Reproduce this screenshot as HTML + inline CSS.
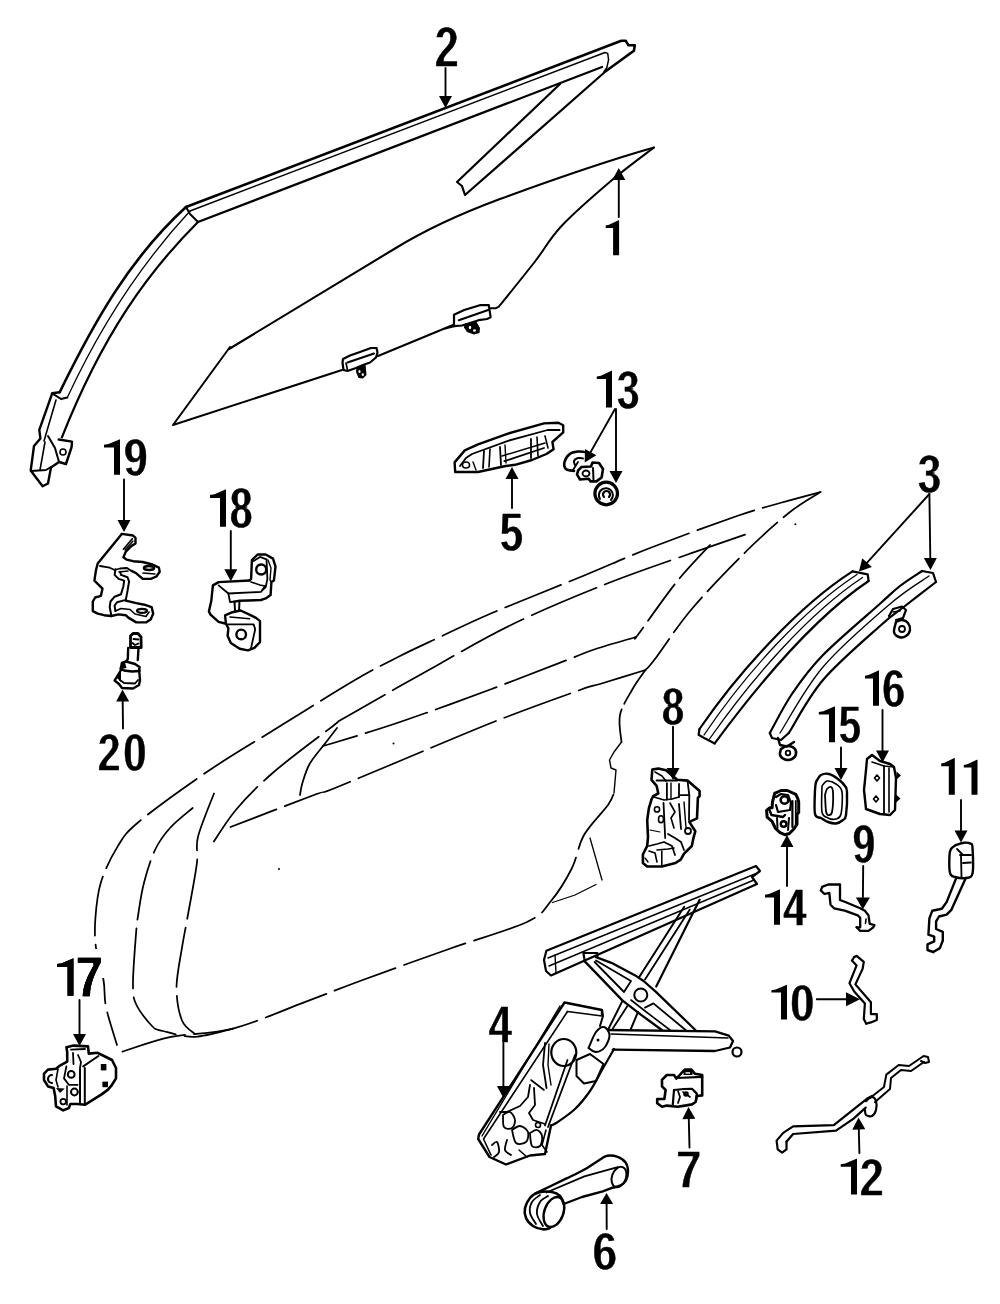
<!DOCTYPE html>
<html><head><meta charset="utf-8"><style>
html,body{margin:0;padding:0;background:#fff;}
body{width:1000px;height:1304px;overflow:hidden;}
svg{display:block;}
svg text{font-family:"Liberation Sans",sans-serif;font-weight:bold;font-size:100px;fill:#000;}
.f{fill:#000;stroke:none;}
</style></head><body>
<svg width="1000" height="1304" viewBox="0 0 1000 1304" fill="none" stroke="#000" stroke-linejoin="round" stroke-linecap="round">
<defs><filter id="thin" x="0" y="0" width="1000" height="1304" filterUnits="userSpaceOnUse"><feMorphology operator="erode" radius="0 0.8"/></filter></defs>
<polyline points="186.0,207.0 621.3,40.8 625.8,40.8 628.5,45.3 634.8,45.3 633.9,50.7 606.0,71.0" stroke-width="2.6" />
<polyline points="190.0,211.0 605.0,52.5 607.7,53.4 608.6,59.7 606.8,67.8 604.1,71.4" stroke-width="1.5" />
<polyline points="198.0,222.0 602.0,67.0" stroke-width="2.2" />
<polyline points="186.0,207.0 190.0,214.0 198.0,222.0" stroke-width="2" />
<polyline points="560.0,84.0 457.0,182.0 462.0,186.0 465.0,195.0 606.0,71.0" stroke-width="2.2" />
<path d="M186,207 C130,258 94,322 59.7,392.2" stroke-width="2.6" fill="none" />
<path d="M190,211 C140,265 100,327 67.3,397.6" stroke-width="1.3" fill="none" />
<path d="M198,222 C148,272 103,334 61.9,437.3" stroke-width="2.2" fill="none" />
<polyline points="59.7,392.2 52.2,393.3 39.3,429.8 40.4,438.4 34.0,446.0 30.7,470.6 42.6,486.2 48.0,483.5 51.0,467.4 59.0,462.0 66.0,464.0 71.6,447.0 72.0,441.6 58.7,439.5" stroke-width="2.4" />
<polyline points="52.2,393.3 61.0,399.0 67.3,397.6" stroke-width="2" />
<polyline points="56.0,400.0 44.0,441.0" stroke-width="1.6" />
<polyline points="48.0,436.0 55.0,448.0 59.0,462.0" stroke-width="2" />
<polyline points="31.0,471.0 46.0,470.0 51.0,467.0" stroke-width="2" />
<polyline points="45.0,442.0 40.0,470.0" stroke-width="1.6" />
<circle cx="63" cy="452" r="3" stroke-width="1.6"/>
<path d="M229,349 L395,248.5 C430,227 465,212 500,199 C560,177 610,160 654,147.5" stroke-width="2.1" fill="none" />
<polyline points="230.0,347.0 173.0,425.0 342.0,370.0" stroke-width="2" />
<path d="M654.0,147.5 C646.9,153.0 626.8,167.5 611.5,180.5 C596.2,193.5 574.8,212.0 562.0,225.5 C549.2,239.0 545.5,248.0 535.0,261.5 C524.5,275.0 505.0,299.0 499.0,306.5" stroke-width="2" fill="none" />
<polyline points="378.0,356.0 453.0,325.0" stroke-width="2" />
<polyline points="343.0,359.0 350.0,355.5 360.0,352.0 371.0,348.0 376.5,348.0 377.5,352.5 376.0,357.5 370.0,362.5 363.0,365.0 356.0,368.0 347.5,371.0 343.5,370.0 342.5,362.5 343.0,359.0" stroke-width="2.2" />
<polyline points="347.5,362.5 374.0,353.5" stroke-width="2.0" />
<polyline points="346.0,363.0 347.5,370.0" stroke-width="1.6" />
<polygon points="356.5,367 365.5,364 366.5,375 363,378.5 358.5,378 356,372" class="f"/>
<ellipse cx="359.5" cy="371.5" rx="1.1" ry="1.6" fill="#fff" stroke="none"/>
<ellipse cx="362.8" cy="374.5" rx="1.1" ry="1.6" fill="#fff" stroke="none"/>
<polyline points="454.0,314.8 464.2,310.0 479.8,305.2 488.8,305.2 490.6,317.2 487.0,319.0 478.6,320.2 470.0,323.0 462.0,325.5 454.0,326.2 454.0,314.8" stroke-width="2.2" />
<polyline points="458.8,320.2 488.2,310.0" stroke-width="2.0" />
<polyline points="490.6,308.2 496.0,308.2 499.0,306.5" stroke-width="2.0" />
<polyline points="445.0,328.6 454.0,326.2" stroke-width="2.0" />
<polygon points="464.5,324 476,321 480,328 479.5,333 474,334.6 467,332 464,327.5" class="f"/>
<ellipse cx="470" cy="327.5" rx="1.2" ry="1.8" fill="#fff" stroke="none"/>
<ellipse cx="474.5" cy="330.5" rx="1.5" ry="1.2" fill="#fff" stroke="none"/>
<line x1="445.5" y1="68.0" x2="445.5" y2="96.0" stroke-width="1.9"/>
<polygon points="445.5,108.0 439.0,96.0 452.0,96.0" class="f"/>
<line x1="618.8" y1="217.0" x2="618.8" y2="180.0" stroke-width="1.9"/>
<polygon points="618.8,168.0 625.3,180.0 612.3,180.0" class="f"/>
<polyline points="455.2,472.0 478.0,472.0 505.6,466.0 515.2,464.8 532.0,460.0 546.4,454.0 553.6,449.2 552.4,442.0 563.2,432.4 563.2,425.2 558.4,422.8 544.0,423.4 508.0,433.6 478.0,444.4 464.8,450.4 454.6,462.4 455.2,472.0" stroke-width="2.4" />
<polyline points="460.0,466.0 466.0,458.0 472.0,454.0 508.0,440.8 547.6,430.0 559.6,430.0" stroke-width="1.8" />
<polyline points="504.4,461.2 544.0,448.0" stroke-width="1.8" />
<polyline points="502.0,456.0 545.0,443.0" stroke-width="1.4" />
<polyline points="484.0,451.0 483.0,468.0" stroke-width="1.8" />
<polyline points="490.0,449.0 489.0,467.0" stroke-width="1.6" />
<polyline points="500.0,447.0 501.0,465.0" stroke-width="1.8" />
<polyline points="505.0,445.0 506.0,463.0" stroke-width="1.4" />
<polyline points="531.0,439.0 531.0,458.0" stroke-width="1.8" />
<polyline points="537.0,437.0 538.0,456.0" stroke-width="1.6" />
<polyline points="545.0,436.0 548.0,448.0" stroke-width="1.6" />
<ellipse cx="466" cy="465" rx="3.5" ry="3" stroke-width="1.6"/>
<polyline points="473.0,462.0 476.0,470.0" stroke-width="1.4" />
<line x1="512.0" y1="508.0" x2="512.0" y2="479.0" stroke-width="1.9"/>
<polygon points="512.0,467.0 518.5,479.0 505.5,479.0" class="f"/>
<path d="M574.0,471.0 C572.7,470.7 567.6,470.5 566.0,469.0 C564.4,467.5 563.9,464.5 564.5,462.0 C565.1,459.5 567.5,455.8 569.8,454.0 C572.0,452.2 575.6,451.8 578.0,451.5 C580.4,451.2 583.0,451.9 584.0,452.0" stroke-width="2.6" fill="none" />
<path d="M575.0,465.0 C574.8,464.3 573.5,462.2 574.0,461.0 C574.5,459.8 576.5,458.4 578.0,458.0 C579.5,457.6 582.2,458.4 583.0,458.5" stroke-width="2.0" fill="none" />
<polyline points="573.0,470.0 578.0,462.0" stroke-width="1.8" />
<polyline points="581.5,467.0 591.0,466.5 592.5,462.5 599.0,463.0 603.0,469.0 601.6,477.5 596.4,481.4 590.6,481.4 588.6,478.8 580.0,479.5 577.0,474.4 578.2,470.4 581.5,467.0" stroke-width="2.6" />
<ellipse cx="586" cy="473.5" rx="3.5" ry="3" stroke-width="1.8"/>
<polyline points="593.0,468.0 593.5,480.0" stroke-width="2.0" />
<circle cx="606.2" cy="493.5" r="11.3" stroke-width="3.2"/>
<path d="M600,499 A7,7 0 1,1 611,500" stroke-width="2.0" fill="none" />
<path d="M604,497 A3.5,3.5 0 1,1 609,497" stroke-width="2.2" fill="none" />
<line x1="615.0" y1="409.0" x2="590.6" y2="452.1" stroke-width="1.9"/>
<polygon points="584.7,462.5 585.0,448.9 596.3,455.3" class="f"/>
<line x1="616.0" y1="409.0" x2="616.0" y2="471.0" stroke-width="1.9"/>
<polygon points="616.0,483.0 609.5,471.0 622.5,471.0" class="f"/>
<line x1="124.0" y1="479.5" x2="124.0" y2="520.0" stroke-width="1.9"/>
<polygon points="124.0,532.0 117.5,520.0 130.5,520.0" class="f"/>
<polyline points="121.8,533.9 97.7,563.6 96.0,570.0 94.4,580.6 102.5,588.6 100.9,595.9 95.2,597.5 92.8,601.5 92.8,611.1 97.7,613.6 104.1,615.2 111.3,616.0" stroke-width="2.4" />
<polyline points="121.8,533.9 133.1,535.5 135.5,537.9 135.5,543.5 131.5,545.9 125.8,551.6 123.4,557.2 126.6,559.6 133.1,561.2 142.7,562.0 152.4,564.5 158.9,567.7 159.7,571.7 156.4,576.5 150.8,578.9 142.7,578.9 136.3,573.3 131.5,570.9" stroke-width="2.4" />
<polyline points="123.4,549.2 132.3,538.7" stroke-width="1.6" />
<polyline points="125.0,550.0 133.0,541.0" stroke-width="1.4" />
<ellipse cx="149" cy="568" rx="5" ry="2" stroke-width="2.6"/>
<polyline points="143.0,573.0 155.0,574.0" stroke-width="1.4" />
<polyline points="100.0,566.0 109.7,567.7 114.6,570.0 120.0,568.5 127.0,568.0 131.5,570.9" stroke-width="1.8" />
<polyline points="115.4,569.3 114.6,574.9 118.6,578.9 124.2,580.6 123.4,586.2 121.0,594.2 114.6,596.7 110.5,601.5 109.7,607.1 111.3,615.2" stroke-width="2.0" />
<polyline points="120.2,571.7 121.0,574.9 127.5,577.3 129.1,581.4 127.5,591.0 125.8,599.9 117.0,602.3 114.6,605.5 115.4,611.1" stroke-width="2.0" />
<polyline points="119.0,572.0 128.0,571.0" stroke-width="1.6" />
<polyline points="125.8,600.7 136.3,603.1 144.4,604.7 151.6,607.1 153.2,613.6 150.8,619.2 146.0,622.4 136.3,622.4 128.3,617.6 125.8,615.2 118.6,614.4 111.3,616.0" stroke-width="2.4" />
<polyline points="115.4,611.1 121.0,608.5 130.0,609.5 135.0,614.0 146.0,616.5 149.0,612.0" stroke-width="1.6" />
<ellipse cx="142" cy="610.8" rx="5" ry="2" stroke-width="2.2"/>
<line x1="230.8" y1="531.0" x2="230.8" y2="569.3" stroke-width="1.9"/>
<polygon points="230.8,581.3 224.3,569.3 237.3,569.3" class="f"/>
<polyline points="249.5,580.5 218.6,582.1 212.9,585.4 211.3,600.8 208.9,611.4 210.5,614.6 218.6,621.9 225.1,623.5" stroke-width="2.4" />
<polyline points="249.5,580.5 251.1,578.9 251.9,560.2 257.6,554.5 265.7,554.5 273.0,558.6 275.5,566.7 273.9,580.5 271.4,582.1 270.6,595.1 265.7,598.4 260.9,600.0 239.7,600.8 234.1,601.6" stroke-width="2.4" />
<polyline points="253.6,561.0 260.0,556.9 266.5,559.4 267.4,578.9 265.7,587.0 262.5,590.2" stroke-width="1.8" />
<polyline points="268.0,560.0 271.0,568.0 270.0,580.0 271.4,582.1" stroke-width="1.4" />
<circle cx="261.2" cy="569.5" r="5" stroke-width="2.4"/>
<polyline points="218.6,585.4 228.4,593.5 260.9,591.9 264.9,586.2" stroke-width="1.8" />
<polyline points="251.0,582.0 260.0,585.0 265.0,586.0" stroke-width="1.6" />
<polyline points="228.4,593.5 230.0,602.0 234.1,601.6" stroke-width="1.8" />
<polyline points="234.5,602.0 235.0,611.0" stroke-width="2.0" />
<polyline points="239.5,601.0 239.0,611.0" stroke-width="2.0" />
<polyline points="225.1,615.4 232.4,612.2 240.6,610.5 249.5,614.6 256.0,617.9 260.0,621.1 260.0,642.2 254.4,647.9 247.9,650.4 239.7,648.7 230.8,643.1 227.6,635.7 228.4,628.4 225.9,623.5 225.1,615.4" stroke-width="2.4" />
<polyline points="227.6,624.4 253.6,624.4 255.2,629.2 251.1,647.9" stroke-width="1.8" />
<polyline points="230.0,617.0 249.5,618.7" stroke-width="1.6" />
<circle cx="241.2" cy="634.4" r="4.8" stroke-width="2.4"/>
<polyline points="130.5,636.0 133.0,633.5 138.0,633.5 141.0,637.0 141.2,647.5 130.5,647.5 130.5,636.0" stroke-width="2.8" />
<polyline points="133.5,639.0 138.5,639.5" stroke-width="1.8" />
<polyline points="132.5,643.0 135.0,645.0 138.5,643.5" stroke-width="1.8" />
<polyline points="128.2,648.0 127.8,659.0 126.5,661.0" stroke-width="2.4" />
<polyline points="138.5,648.0 137.8,660.0" stroke-width="2.4" />
<polyline points="122.0,663.0 126.0,661.5 135.0,664.0 139.5,667.0 139.2,671.0" stroke-width="2.6" />
<polyline points="122.0,663.0 120.5,669.0 124.0,670.5 132.0,671.5 139.2,671.0" stroke-width="2.4" />
<polygon points="121,663.5 125,662.5 126.5,668 122,669" class="f"/>
<polyline points="121.0,670.0 114.6,680.5 119.0,684.0 122.0,688.0 133.0,688.5 139.0,685.0 140.0,680.0 139.2,671.0" stroke-width="2.4" />
<polyline points="120.0,680.0 124.0,683.0 135.0,683.5 138.0,680.0" stroke-width="1.8" />
<polygon points="121,670 117,678 121,682" class="f"/>
<line x1="123.0" y1="728.6" x2="122.7" y2="701.5" stroke-width="1.9"/>
<polygon points="122.5,689.5 129.2,701.4 116.2,701.6" class="f"/>
<line x1="79.5" y1="1000.0" x2="79.5" y2="1034.0" stroke-width="1.9"/>
<polygon points="79.5,1046.0 73.0,1034.0 86.0,1034.0" class="f"/>
<polyline points="66.4,1047.2 73.6,1045.6 88.0,1046.4 88.8,1053.6 97.6,1052.8 104.0,1056.0 112.0,1060.0 116.0,1068.0 116.0,1078.4 112.0,1084.8 108.0,1089.6 101.6,1094.4 95.2,1098.4 88.8,1102.4 84.8,1104.8 77.6,1104.0 70.4,1104.0 68.8,1108.0 63.2,1110.4 56.0,1106.4 55.2,1096.0 53.6,1088.0 48.0,1086.4 44.0,1080.0 44.0,1073.6 48.0,1069.6 56.0,1068.8 60.0,1065.6 67.2,1061.6 67.2,1052.0 66.4,1047.2" stroke-width="2.6" />
<polyline points="83.2,1066.4 98.4,1056.0" stroke-width="2.0" />
<polyline points="84.8,1068.0 84.8,1104.0" stroke-width="2.0" />
<polyline points="80.0,1068.8 80.0,1102.4" stroke-width="2.0" />
<polyline points="71.0,1049.6 85.0,1049.0" stroke-width="1.8" />
<polyline points="73.0,1053.0 73.5,1064.0" stroke-width="1.8" />
<polyline points="78.0,1055.0 81.0,1062.0 80.0,1068.0" stroke-width="1.8" />
<rect x="100.8" y="1064" width="5.6" height="6.4" class="f"/>
<rect x="102.4" y="1081.6" width="5.6" height="5.6" class="f"/>
<circle cx="71.2" cy="1074.4" r="3.4" stroke-width="2"/>
<circle cx="74.4" cy="1092" r="3.4" stroke-width="2"/>
<circle cx="63.2" cy="1101.6" r="2.8" stroke-width="1.8"/>
<path d="M52,1075 A4,4 0 1,0 52,1083" stroke-width="2.2" fill="none" />
<polygon points="56,1088 64.8,1088.5 60,1093" class="f"/>
<polyline points="66.4,1066.4 64.0,1078.4 68.8,1084.8 77.6,1084.8" stroke-width="1.8" />
<polyline points="58.0,1069.0 56.0,1080.0 58.0,1087.0" stroke-width="1.6" />
<polyline points="67.0,1086.0 67.0,1105.0" stroke-width="1.6" />
<path d="M820.5,492.0 C813.8,493.8 793.9,499.0 780.0,503.0 C766.1,507.0 758.7,508.5 737.0,516.0 C715.3,523.5 675.7,538.0 650.0,548.0 C624.3,558.0 609.3,565.2 583.0,576.0 C556.7,586.8 515.8,602.8 492.0,613.0 C468.2,623.2 455.3,629.8 440.0,637.0 C424.7,644.2 414.2,648.8 400.0,656.0 C385.8,663.2 374.8,668.4 355.0,680.0 C335.2,691.6 305.3,710.5 281.0,725.6 C256.7,740.7 232.7,754.4 209.0,770.5 C185.3,786.6 153.9,809.1 138.6,822.0 C123.3,834.9 123.3,837.5 117.0,847.6 C110.7,857.7 104.4,871.0 100.8,882.7 C97.2,894.4 96.2,907.1 95.4,918.0 C94.6,928.9 94.7,937.7 96.0,948.0 C97.3,958.3 101.8,970.2 103.5,980.0 C105.2,989.8 103.8,996.2 106.0,1007.0 C108.2,1017.8 115.2,1038.7 117.0,1045.0" stroke-width="1.75" fill="none" stroke-dasharray="60 9"/>
<path d="M820.5,492.0 C815.4,495.3 802.4,502.1 790.0,512.0 C777.6,521.9 762.3,535.4 746.0,551.5 C729.7,567.6 707.2,590.8 692.0,608.7 C676.8,626.6 662.8,648.8 655.0,659.0 C647.2,669.2 647.1,668.2 645.5,670.0" stroke-width="1.75" fill="none" stroke-dasharray="45 8"/>
<path d="M745.0,534.6 C735.7,537.8 712.2,545.8 689.0,554.0 C665.8,562.2 635.7,572.2 606.0,584.0 C576.3,595.8 540.8,610.5 511.0,625.0 C481.2,639.5 454.5,655.7 427.0,671.0 C399.5,686.3 361.7,707.8 346.0,717.0 C330.3,726.2 345.0,716.8 333.0,726.0 C321.0,735.2 290.0,758.0 273.8,772.0 C257.6,786.0 246.6,797.1 236.0,809.7 C225.4,822.3 214.3,841.3 210.0,847.6" stroke-width="1.75" fill="none" stroke-dasharray="70 9"/>
<path d="M710.0,545.0 C704.3,551.3 687.9,567.9 676.0,582.7 C664.1,597.5 645.2,625.0 638.5,634.0 C631.8,643.0 636.4,636.5 636.0,637.0" stroke-width="1.75" fill="none" stroke-dasharray="45 8"/>
<path d="M636.0,637.0 C629.3,639.0 606.5,645.4 595.6,649.0 C584.7,652.6 588.3,651.8 570.5,658.6 C552.7,665.4 517.4,679.4 489.0,690.0 C460.6,700.6 426.5,713.0 400.0,722.0 C373.5,731.0 342.5,740.2 330.0,744.0 C317.5,747.8 325.8,744.8 325.0,745.0" stroke-width="1.75" fill="none" stroke-dasharray="65 9"/>
<path d="M337.0,728.0 C334.8,730.8 328.6,738.8 324.0,744.8 C319.4,750.8 313.2,757.6 309.6,764.0 C306.0,770.4 304.0,777.8 302.4,783.0 C300.8,788.2 300.4,793.0 300.0,795.0" stroke-width="1.75" fill="none" />
<path d="M645.5,670.0 C637.9,672.3 610.9,680.7 600.0,684.0 C589.1,687.3 597.8,683.7 580.0,690.0 C562.2,696.3 524.3,709.8 493.5,722.0 C462.7,734.2 422.2,751.7 395.0,763.0 C367.8,774.3 343.5,784.7 330.0,790.0 C316.5,795.3 330.6,788.8 314.0,795.0 C297.4,801.2 244.4,821.7 230.5,827.0" stroke-width="1.75" fill="none" stroke-dasharray="70 9"/>
<path d="M192.7,808.0 C188.9,811.3 176.3,821.0 170.0,828.0 C163.7,835.0 159.3,840.9 155.0,850.0 C150.7,859.1 146.7,872.4 144.0,882.7 C141.3,893.0 139.9,903.5 138.6,912.0 C137.3,920.5 136.9,922.2 136.0,934.0 C135.1,945.8 133.0,971.0 133.0,982.7 C133.0,994.4 132.8,996.8 136.0,1004.0 C139.2,1011.2 147.5,1021.5 152.0,1026.0 C156.5,1030.5 155.8,1029.2 163.0,1031.0 C170.2,1032.8 183.3,1037.2 195.0,1036.8 C206.7,1036.4 226.7,1030.0 233.0,1028.6" stroke-width="1.75" fill="none" stroke-dasharray="60 9"/>
<path d="M214.0,793.5 C211.3,800.7 200.9,825.1 198.0,836.8 C195.1,848.5 198.6,849.9 196.8,863.8 C195.0,877.7 189.5,906.0 187.0,920.0 C184.5,934.0 183.8,936.3 182.0,947.6 C180.2,958.9 176.5,975.9 176.5,988.0 C176.5,1000.1 178.9,1012.8 182.0,1020.5 C185.1,1028.2 192.8,1031.8 195.0,1034.0" stroke-width="1.75" fill="none" stroke-dasharray="60 9"/>
<path d="M122.4,1051.6 C130.5,1049.1 152.6,1040.6 171.0,1036.8 C189.4,1033.0 210.5,1034.5 233.0,1028.6 C255.5,1022.7 284.8,1009.5 306.0,1001.6 C327.2,993.7 336.2,989.8 360.0,981.0 C383.8,972.2 421.2,958.8 449.0,949.0 C476.8,939.2 510.0,930.0 527.0,922.0 C544.0,914.0 543.5,910.0 551.0,901.0 C558.5,892.0 566.5,879.0 572.0,868.0 C577.5,857.0 578.0,845.5 584.0,835.0 C590.0,824.5 603.0,812.0 608.0,805.0 C613.0,798.0 613.0,795.0 614.0,793.0" stroke-width="1.75" fill="none" stroke-dasharray="65 9"/>
<path d="M645.5,670.0 C643.2,673.3 636.2,682.5 632.0,690.0 C627.8,697.5 621.8,706.3 620.0,715.0 C618.2,723.7 621.2,737.5 621.5,742.0" stroke-width="1.75" fill="none" stroke-dasharray="40 6"/>
<polyline points="621.5,742.0 614.0,752.0 609.5,760.0 611.0,768.0 616.0,770.0 614.0,793.0" stroke-width="1.4" />
<polyline points="590.0,838.0 602.0,880.0" stroke-width="1.3" />
<polyline points="552.5,902.5 575.0,895.0 596.0,884.5" stroke-width="1.3" />
<circle cx="393.5" cy="743.5" r="1" class="f"/>
<circle cx="279" cy="869" r="1" class="f"/>
<circle cx="795.4" cy="524.3" r="1" class="f"/>
<path d="M852.5,571.4 C800,605 740,670 699.5,729" stroke-width="2.2" fill="none" />
<path d="M868.6,581 C815,617 760,682 714.7,743.4" stroke-width="2.2" fill="none" />
<polyline points="852.5,571.4 867.7,574.3 868.6,581.0" stroke-width="2.2" />
<polyline points="699.5,729.0 698.6,734.8 705.2,738.6 714.7,743.4" stroke-width="2.2" />
<path d="M857,574.5 C804,609 745,674 704,735" stroke-width="1.3" fill="none" />
<path d="M862.5,577.5 C809,613 752,678 709.5,739" stroke-width="1.3" fill="none" />
<path d="M922.0,571.0 C918.3,573.5 907.0,580.5 900.0,586.0 C893.0,591.5 892.8,592.2 880.0,603.7 C867.2,615.2 837.6,640.1 823.0,655.0 C808.4,669.9 801.5,680.0 792.6,693.0 C783.7,706.0 773.6,726.3 769.8,733.0" stroke-width="2.2" fill="none" />
<path d="M936.0,582.0 C930.8,586.0 914.3,598.7 905.0,606.0 C895.7,613.3 893.7,613.7 880.0,626.0 C866.3,638.3 838.2,662.2 823.0,680.0 C807.8,697.8 794.5,724.2 788.8,733.0" stroke-width="2.2" fill="none" />
<path d="M929.0,576.0 C922.5,580.7 907.7,588.8 890.0,604.0 C872.3,619.2 841.3,645.5 823.0,667.0 C804.7,688.5 787.2,722.0 780.0,733.0" stroke-width="1.3" fill="none" />
<polyline points="922.0,571.0 933.0,573.0 936.0,582.0" stroke-width="2.2" />
<polyline points="769.8,733.0 772.0,738.0 781.0,740.0 788.8,733.0" stroke-width="2.2" />
<polyline points="889.0,616.0 893.0,609.0 902.0,606.5 906.0,610.0 903.0,618.0 896.0,620.0" stroke-width="2.2" />
<polyline points="893.0,612.0 900.0,611.0" stroke-width="1.6" />
<path d="M896.0,622.0 C897.0,621.7 900.0,619.8 902.0,620.0 C904.0,620.2 906.7,621.3 908.0,623.0 C909.3,624.7 910.3,627.8 910.0,630.0 C909.7,632.2 907.8,634.8 906.0,636.0 C904.2,637.2 901.0,637.7 899.0,637.0 C897.0,636.3 894.5,634.5 894.0,632.0 C893.5,629.5 895.7,623.7 896.0,622.0" stroke-width="2.4" fill="none" />
<circle cx="902" cy="629" r="3" stroke-width="1.8"/>
<polyline points="778.0,738.0 780.0,745.0 787.0,746.5 794.0,742.0" stroke-width="2.4" />
<path d="M781.0,749.0 C782.0,748.5 784.8,746.2 787.0,746.0 C789.2,745.8 792.5,746.7 794.0,748.0 C795.5,749.3 796.3,752.2 796.0,754.0 C795.7,755.8 793.8,758.1 792.0,759.0 C790.2,759.9 787.0,760.2 785.0,759.5 C783.0,758.8 780.7,756.8 780.0,755.0 C779.3,753.2 780.8,750.0 781.0,749.0" stroke-width="2.6" fill="none" />
<circle cx="788" cy="753" r="2.3" stroke-width="1.8"/>
<line x1="929.4" y1="494.0" x2="867.1" y2="562.7" stroke-width="1.9"/>
<polygon points="859.0,571.6 862.2,558.3 871.9,567.1" class="f"/>
<line x1="929.4" y1="494.0" x2="930.3" y2="558.0" stroke-width="1.9"/>
<polygon points="930.5,570.0 923.8,558.1 936.8,557.9" class="f"/>
<line x1="841.0" y1="747.5" x2="841.0" y2="768.0" stroke-width="1.9"/>
<polygon points="841.0,780.0 834.5,768.0 847.5,768.0" class="f"/>
<path d="M816.0,782.0 C816.8,780.8 818.8,776.3 821.0,775.0 C823.2,773.7 826.2,773.3 829.0,774.0 C831.8,774.7 835.3,777.0 838.0,779.0 C840.7,781.0 843.5,783.8 845.0,786.0 C846.5,788.2 846.8,787.2 847.0,792.0 C847.2,796.8 846.7,810.3 846.0,815.0 C845.3,819.7 844.7,818.6 843.0,820.0 C841.3,821.4 838.5,823.2 836.0,823.5 C833.5,823.8 830.5,822.9 828.0,822.0 C825.5,821.1 823.2,819.3 821.0,818.0 C818.8,816.7 816.0,818.7 815.0,814.0 C814.0,809.3 814.8,795.3 815.0,790.0 C815.2,784.7 815.8,783.3 816.0,782.0" stroke-width="2.4" fill="none" />
<path d="M822.0,786.0 C822.8,785.2 824.7,781.3 827.0,781.0 C829.3,780.7 833.5,782.2 836.0,784.0 C838.5,785.8 841.2,787.0 842.0,792.0 C842.8,797.0 842.0,809.5 841.0,814.0 C840.0,818.5 838.2,818.3 836.0,819.0 C833.8,819.7 830.3,819.2 828.0,818.0 C825.7,816.8 823.0,817.3 822.0,812.0 C821.0,806.7 822.0,790.3 822.0,786.0" stroke-width="1.6" fill="none" />
<path d="M825.0,795.0 C825.3,794.0 826.0,790.3 827.0,789.0 C828.0,787.7 830.0,786.5 831.0,787.0 C832.0,787.5 832.8,787.8 833.0,792.0 C833.2,796.2 832.8,808.2 832.0,812.0 C831.2,815.8 829.0,815.2 828.0,815.0 C827.0,814.8 826.5,814.3 826.0,811.0 C825.5,807.7 825.2,797.7 825.0,795.0" stroke-width="1.8" fill="none" />
<line x1="882.5" y1="710.0" x2="882.5" y2="750.5" stroke-width="1.9"/>
<polygon points="882.5,762.5 876.0,750.5 889.0,750.5" class="f"/>
<polyline points="867.0,759.0 872.0,755.0 880.0,761.0 890.0,764.0 894.0,767.0 896.0,778.0 895.0,810.0 890.0,815.0 880.0,814.0 866.0,809.0 864.0,790.0 866.0,770.0 867.0,759.0" stroke-width="2.4" />
<polyline points="884.0,766.0 884.0,813.0" stroke-width="1.8" />
<polyline points="889.0,768.0 889.0,812.0" stroke-width="1.6" />
<polyline points="872.0,762.0 884.0,766.0 894.0,767.0" stroke-width="1.6" />
<polygon points="877,775 879.5,778 877,781 874.5,778" stroke-width="1.6"/>
<polygon points="876,796 878.5,799 876,802 873.5,799" stroke-width="1.6"/>
<polygon points="896.5,771.5 901,775.5 896.5,779.5" class="f"/>
<polygon points="896,794.5 900.5,798.5 896,802.5" class="f"/>
<line x1="787.0" y1="886.0" x2="787.0" y2="847.0" stroke-width="1.9"/>
<polygon points="787.0,835.0 793.5,847.0 780.5,847.0" class="f"/>
<polyline points="774.7,793.4 781.0,790.5 787.3,790.5 795.8,794.3 797.9,798.9 798.7,801.9 798.7,812.4 797.0,814.5 797.0,824.2 793.6,829.3 789.4,833.5 785.2,834.8 780.1,832.7 775.5,828.5 772.1,821.3 767.1,817.1 766.6,810.3 769.6,807.8 772.1,807.8 772.5,801.9 774.7,793.4" stroke-width="3.0" />
<circle cx="784.5" cy="800" r="3.8" stroke-width="2.6"/>
<circle cx="783.6" cy="824" r="2.8" stroke-width="2.4"/>
<polyline points="776.0,797.0 781.0,794.0 788.0,795.0 791.0,803.0 790.0,810.0 778.0,812.0 776.0,805.0" stroke-width="2.2" />
<polyline points="769.5,810.0 771.5,815.0 783.0,817.0 785.0,815.0" stroke-width="2.4" />
<polyline points="792.4,801.0 792.4,827.0" stroke-width="2.2" />
<polyline points="795.8,801.0 795.8,826.0" stroke-width="1.8" />
<polyline points="777.0,818.0 777.5,828.0" stroke-width="2.0" />
<polyline points="789.0,818.0 788.0,830.0" stroke-width="2.0" />
<line x1="961.0" y1="800.0" x2="961.0" y2="830.5" stroke-width="1.9"/>
<polygon points="961.0,842.5 954.5,830.5 967.5,830.5" class="f"/>
<path d="M956.0,845.0 C957.3,844.6 961.6,842.9 964.0,842.7 C966.4,842.5 969.1,842.8 970.5,843.6 C971.9,844.4 972.2,842.5 972.5,847.5 C972.8,852.5 973.6,868.4 972.5,873.5 C971.4,878.6 968.9,877.4 966.0,878.0 C963.1,878.6 957.7,877.8 955.0,877.0 C952.3,876.2 950.9,876.7 950.0,873.0 C949.1,869.3 949.3,859.0 949.5,855.0 C949.7,851.0 949.9,850.7 951.0,849.0 C952.1,847.3 955.2,845.7 956.0,845.0" stroke-width="2.4" fill="none" />
<polyline points="957.0,849.0 963.0,855.0" stroke-width="1.8" />
<polyline points="960.0,855.0 971.0,855.0" stroke-width="1.8" />
<polyline points="963.0,863.0 971.0,862.5" stroke-width="1.8" />
<polyline points="961.0,856.0 961.5,877.0" stroke-width="1.8" />
<polyline points="956.2,878.1 946.6,902.1 941.8,908.8 932.3,910.7 929.4,918.4 928.4,934.7 934.2,936.6 934.2,941.4 927.5,944.3 927.5,950.0 933.2,952.0" stroke-width="2.4" />
<polyline points="965.8,878.1 951.4,909.8 946.6,914.6 939.0,916.5 936.1,921.3 936.1,929.0 942.8,931.8 942.8,940.5 939.9,948.1 933.2,952.0" stroke-width="2.4" />
<line x1="863.2" y1="866.0" x2="862.9" y2="897.5" stroke-width="1.9"/>
<polygon points="862.8,909.5 855.9,897.4 869.9,897.6" class="f"/>
<polyline points="820.9,890.5 822.1,886.9 828.1,884.5 840.0,884.5 840.0,900.0 845.9,902.3 860.2,908.3 864.9,910.7 868.5,915.4 869.7,923.8 874.5,925.0 873.3,927.3 868.5,930.9 860.2,930.9 856.6,927.3" stroke-width="2.3" />
<polyline points="820.9,890.5 824.5,894.0 829.3,892.8 830.5,904.7 834.0,908.3 844.7,910.7 857.8,915.4 860.2,917.8 860.2,927.3 856.6,927.3" stroke-width="2.3" />
<polyline points="865.5,923.5 866.0,919.0" stroke-width="1.6" />
<line x1="816.8" y1="999.3" x2="846.0" y2="999.3" stroke-width="1.9"/>
<polygon points="860.0,999.3 846.0,1006.3 846.0,992.3" class="f"/>
<polyline points="854.2,957.0 851.9,960.6 856.6,965.4 849.5,983.2 854.2,991.5 864.9,1003.4 863.8,1018.9 866.1,1023.6" stroke-width="2.2" />
<polyline points="856.6,955.9 863.8,961.8 862.6,968.9 855.4,984.4 870.9,1002.2 870.9,1014.1 876.8,1014.1 876.8,1020.0 870.9,1022.4 866.1,1023.6" stroke-width="2.2" />
<polyline points="854.2,957.0 856.6,955.9" stroke-width="2.2" />
<line x1="859.4" y1="1153.0" x2="858.8" y2="1129.5" stroke-width="1.9"/>
<polygon points="858.5,1117.5 865.3,1129.3 852.3,1129.7" class="f"/>
<polyline points="786.5,1141.7 786.5,1149.4 782.1,1152.7 777.7,1149.4 776.6,1140.6 783.2,1132.9 793.1,1126.3 833.8,1125.2 866.8,1098.8 872.0,1096.0" stroke-width="2.2" />
<polyline points="786.5,1141.7 793.1,1134.0 836.0,1130.7 853.6,1118.6 865.7,1107.6" stroke-width="2.2" />
<path d="M866.0,1101.0 C867.0,1100.3 870.3,1097.0 872.0,1097.0 C873.7,1097.0 875.3,1098.8 876.0,1101.0 C876.7,1103.2 876.7,1107.5 876.0,1110.0 C875.3,1112.5 873.7,1115.2 872.0,1116.0 C870.3,1116.8 867.2,1116.0 866.0,1115.0 C864.8,1114.0 865.2,1110.8 865.0,1110.0" stroke-width="2.2" fill="none" />
<polyline points="870.0,1098.0 884.0,1087.0 886.3,1074.6 898.7,1065.0 909.0,1066.0 923.6,1056.0 928.0,1057.0 929.0,1062.0 925.0,1063.0 921.0,1061.0" stroke-width="2.0" />
<polyline points="875.0,1102.0 890.0,1089.0 891.0,1078.0 901.0,1070.0 911.0,1071.0 924.0,1062.0" stroke-width="2.0" />
<line x1="673.0" y1="726.6" x2="673.0" y2="768.0" stroke-width="1.9"/>
<polygon points="673.0,780.0 666.5,768.0 679.5,768.0" class="f"/>
<polyline points="652.3,769.5 658.3,768.6 666.0,770.3 677.2,779.8 687.5,780.6 699.6,791.0 699.6,796.0 697.9,797.8 697.0,818.4 689.3,821.9 695.3,831.3 693.6,837.3 691.8,846.0 684.1,853.6 680.7,859.7 675.5,863.0 661.8,866.5 647.2,866.5 642.9,863.0 642.9,854.5 647.2,845.9 648.0,837.3 647.2,820.1 648.9,808.1 651.5,799.5 653.2,796.1 658.3,793.5 656.6,785.8 651.5,779.8 652.3,769.5" stroke-width="2.6" />
<polyline points="656.6,780.6 677.2,780.6" stroke-width="2" />
<polyline points="655.0,772.0 662.0,776.0 666.0,781.0" stroke-width="1.6" />
<polyline points="666.9,783.2 666.9,799.5" stroke-width="1.8" />
<polyline points="671.0,783.0 671.0,799.5" stroke-width="1.4" />
<polyline points="679.0,784.0 679.0,797.0" stroke-width="1.8" />
<polyline points="680.7,795.2 689.3,795.2" stroke-width="1.8" />
<polyline points="687.5,780.6 689.3,795.2 689.0,820.0" stroke-width="1.8" />
<polyline points="654.0,797.0 664.0,800.0 672.0,799.0 679.0,797.0" stroke-width="1.6" />
<polyline points="679.0,804.0 681.0,829.0" stroke-width="1.8" />
<polyline points="684.0,802.0 686.0,828.0" stroke-width="1.4" />
<polyline points="663.5,803.0 665.2,838.0" stroke-width="1.8" />
<polyline points="670.0,803.0 675.0,812.0 671.0,818.0 674.0,828.0" stroke-width="1.6" />
<circle cx="657" cy="809.4" r="2.6" stroke-width="1.6"/>
<ellipse cx="661" cy="819.3" rx="2.5" ry="3.5" stroke-width="1.6"/>
<circle cx="688" cy="831" r="3" stroke-width="1.8"/>
<polyline points="668.0,834.0 675.0,838.0 681.0,842.0 684.0,850.0" stroke-width="1.8" />
<polyline points="649.0,846.0 657.0,844.0 664.0,842.0 672.0,846.0 675.0,855.0" stroke-width="1.8" />
<polyline points="657.0,850.0 668.0,849.0 674.0,848.0" stroke-width="1.6" />
<polyline points="661.8,851.0 661.8,866.0" stroke-width="1.6" />
<polyline points="649.0,851.0 655.0,853.0 657.0,862.0" stroke-width="1.6" />
<polyline points="645.0,858.0 648.0,862.0" stroke-width="1.4" />
<polyline points="650.0,830.0 660.0,832.0" stroke-width="1.2" />
<line x1="503.4" y1="1043.0" x2="503.4" y2="1086.0" stroke-width="1.9"/>
<polygon points="503.4,1098.0 496.9,1086.0 509.9,1086.0" class="f"/>
<polyline points="546.4,950.8 756.0,866.0 760.0,871.0 752.0,877.0 757.0,884.0 551.0,975.5 546.0,971.0 544.0,960.0 546.4,950.8" stroke-width="2.2" />
<polyline points="548.0,958.0 755.0,874.0" stroke-width="1.4" />
<polyline points="549.0,966.0 754.0,880.0" stroke-width="1.4" />
<polyline points="555.0,955.0 556.0,973.0" stroke-width="1.4" />
<polyline points="584.8,961.4 583.4,953.0 597.4,953.0 597.4,957.0" stroke-width="2.2" />
<polyline points="584.8,961.4 622.6,1000.6 640.8,1014.6 661.8,1030.0" stroke-width="2.3" />
<polyline points="596.0,957.2 611.4,962.8 635.2,975.4 643.6,981.0 656.2,992.2 695.4,1030.0" stroke-width="2.3" />
<polyline points="596.0,960.5 631.0,981.0 624.0,992.0 594.6,962.0" stroke-width="1.8" />
<polyline points="645.0,1007.6 653.4,1003.4 685.6,1030.0" stroke-width="1.8" />
<polyline points="631.0,1000.0 645.0,1011.0 670.0,1030.0" stroke-width="1.6" />
<circle cx="640.8" cy="995" r="6.5" stroke-width="2"/>
<polyline points="684.2,906.8 639.4,976.8" stroke-width="2.0" />
<polyline points="689.8,909.6 645.0,979.6" stroke-width="1.8" />
<polyline points="699.6,899.8 656.2,986.6" stroke-width="2.2" />
<polyline points="622.6,1000.6 608.6,1028.6" stroke-width="2.0" />
<polyline points="628.2,1004.8 612.8,1028.6" stroke-width="1.8" />
<polyline points="638.0,1012.0 631.0,1028.6" stroke-width="2.0" />
<polyline points="608.0,1030.0 715.0,1031.4 728.8,1035.6 733.0,1041.0 730.0,1047.5 715.0,1051.0 612.8,1049.7" stroke-width="2.3" />
<polyline points="611.0,1034.0 728.0,1038.0" stroke-width="1.4" />
<circle cx="737" cy="1052" r="4.5" stroke-width="2.2"/>
<polyline points="602.0,1014.5 602.0,1010.0 564.5,1002.5 479.0,1134.5 478.2,1139.0 489.5,1157.0 506.0,1164.5 530.0,1155.5 545.0,1154.0 551.0,1125.5" stroke-width="2.4" />
<polyline points="560.0,1006.0 482.0,1136.0" stroke-width="1.4" />
<polyline points="567.5,1011.5 602.0,1016.0" stroke-width="1.6" />
<polyline points="602.0,1010.0 603.0,1016.0 600.0,1026.0" stroke-width="2.0" />
<polyline points="567.5,1011.5 483.5,1139.0 491.0,1155.0" stroke-width="1.6" />
<path d="M614.0,1049.0 C612.0,1052.5 606.0,1063.0 602.0,1070.0 C598.0,1077.0 594.5,1084.5 590.0,1091.0 C585.5,1097.5 580.5,1103.8 575.0,1109.0 C569.5,1114.2 561.0,1119.8 557.0,1122.5 C553.0,1125.2 552.0,1125.0 551.0,1125.5" stroke-width="2.2" fill="none" />
<ellipse cx="563.8" cy="1052.5" rx="12.5" ry="13.5" stroke-width="2.2"/>
<polyline points="575.0,1055.0 548.0,1127.0" stroke-width="1.8" />
<polyline points="567.5,1060.0 545.0,1125.5" stroke-width="1.8" />
<polyline points="545.0,1043.0 543.0,1065.0 546.5,1088.0" stroke-width="1.8" />
<polyline points="549.0,1044.0 548.0,1065.0 551.0,1085.0" stroke-width="1.4" />
<polyline points="531.0,1080.0 544.0,1090.0" stroke-width="1.6" />
<polyline points="534.0,1088.0 535.0,1105.0 529.0,1113.0 533.0,1120.0 545.0,1124.0" stroke-width="1.8" />
<polyline points="530.0,1085.0 528.0,1097.0 520.0,1106.0 507.0,1112.0 500.0,1112.0" stroke-width="1.8" />
<polygon points="576.5,1060.0 590.0,1054.0 603.5,1064.0 596.0,1081.0 584.0,1083.5 576.5,1076.0" stroke-width="2.0" fill="none"/>
<path d="M588.5,1048.0 C589.8,1045.3 593.4,1035.5 596.0,1032.0 C598.6,1028.5 601.8,1026.5 604.0,1027.0 C606.2,1027.5 609.3,1031.7 609.5,1035.0 C609.7,1038.3 607.2,1044.2 605.0,1047.0 C602.8,1049.8 598.8,1051.8 596.0,1052.0 C593.2,1052.2 589.8,1048.7 588.5,1048.0" stroke-width="2.0" fill="none" />
<circle cx="598" cy="1040" r="1.5" class="f"/>
<path d="M503.0,1115.0 C504.2,1114.5 508.0,1111.2 510.0,1112.0 C512.0,1112.8 514.7,1117.3 515.0,1120.0 C515.3,1122.7 513.8,1126.8 512.0,1128.0 C510.2,1129.2 505.5,1129.2 504.0,1127.0 C502.5,1124.8 503.2,1117.0 503.0,1115.0" stroke-width="1.8" fill="none" />
<path d="M512.0,1130.0 C513.3,1129.3 517.3,1125.7 520.0,1126.0 C522.7,1126.3 527.0,1129.3 528.0,1132.0 C529.0,1134.7 528.0,1140.2 526.0,1142.0 C524.0,1143.8 518.3,1145.0 516.0,1143.0 C513.7,1141.0 512.7,1132.2 512.0,1130.0" stroke-width="1.8" fill="none" />
<path d="M530.0,1133.0 C531.2,1132.5 535.0,1129.5 537.0,1130.0 C539.0,1130.5 541.5,1133.3 542.0,1136.0 C542.5,1138.7 541.7,1144.3 540.0,1146.0 C538.3,1147.7 533.7,1148.2 532.0,1146.0 C530.3,1143.8 530.3,1135.2 530.0,1133.0" stroke-width="1.8" fill="none" />
<path d="M507.0,1140.0 C506.7,1141.7 504.3,1147.5 505.0,1150.0 C505.7,1152.5 510.0,1154.2 511.0,1155.0" stroke-width="1.8" fill="none" />
<path d="M492.0,1145.0 C492.8,1144.5 495.8,1140.8 497.0,1142.0 C498.2,1143.2 499.5,1149.5 499.0,1152.0 C498.5,1154.5 494.8,1156.2 494.0,1157.0" stroke-width="1.8" fill="none" />
<circle cx="538" cy="1125" r="2.5" stroke-width="1.6"/>
<polyline points="519.0,1150.0 527.0,1157.0" stroke-width="1.6" />
<polyline points="546.0,1130.0 542.0,1145.0 547.0,1152.0" stroke-width="1.6" />
<line x1="689.5" y1="1147.5" x2="688.8" y2="1119.0" stroke-width="1.9"/>
<polygon points="688.5,1107.0 695.3,1118.8 682.3,1119.2" class="f"/>
<polyline points="662.0,1079.8 666.8,1075.0 674.0,1075.0 676.4,1078.6 682.4,1072.0 684.8,1069.6 691.4,1069.6 695.0,1073.8 702.2,1075.0 702.2,1095.4 696.8,1096.0 695.6,1102.0 692.0,1104.4 684.8,1105.6 677.6,1106.8 666.8,1105.6 662.0,1106.8 657.2,1103.2 657.2,1099.0 664.4,1099.0 665.6,1090.0 662.0,1086.4 662.0,1079.8" stroke-width="2.6" />
<rect x="683.5" y="1071" width="9" height="4" class="f"/>
<rect x="685.5" y="1072.2" width="4.5" height="1.4" fill="#fff" stroke="none"/>
<polyline points="676.4,1078.0 702.2,1076.8" stroke-width="2.2" />
<polyline points="674.0,1090.0 684.0,1089.0 692.0,1088.8 696.8,1093.6 696.0,1101.0" stroke-width="2.2" />
<polyline points="674.0,1090.0 672.8,1104.4" stroke-width="2.2" />
<polyline points="678.0,1091.0 680.0,1097.0 678.0,1103.0" stroke-width="1.8" />
<circle cx="686" cy="1094" r="1.8" stroke-width="2"/>
<polyline points="683.0,1092.0 690.0,1097.0" stroke-width="1.6" />
<line x1="606.7" y1="1229.0" x2="606.6" y2="1204.0" stroke-width="1.9"/>
<polygon points="606.5,1193.0 613.1,1204.0 600.1,1204.0" class="f"/>
<ellipse cx="553.9" cy="1212" rx="9.5" ry="15.5" transform="rotate(20 553.9 1212)" stroke-width="2.4"/>
<path d="M563.7,1204.0 C563.1,1202.7 562.0,1198.0 560.0,1196.0 C558.0,1194.0 555.6,1192.6 552.0,1192.0 C548.4,1191.4 542.1,1191.5 538.4,1192.5 C534.7,1193.5 532.2,1195.4 530.0,1198.0 C527.8,1200.6 525.7,1204.7 525.0,1208.0 C524.3,1211.3 524.7,1215.0 526.0,1218.0 C527.3,1221.0 530.2,1224.1 533.0,1226.0 C535.8,1227.9 540.2,1229.0 543.0,1229.3 C545.8,1229.6 548.8,1228.2 550.0,1228.0" stroke-width="2.6" fill="none" />
<path d="M540.0,1195.0 C538.7,1196.2 533.7,1199.0 532.0,1202.0 C530.3,1205.0 529.3,1209.3 530.0,1213.0 C530.7,1216.7 535.0,1222.2 536.0,1224.0" stroke-width="1.8" fill="none" />
<path d="M548.0,1196.0 C546.7,1197.0 541.8,1199.0 540.0,1202.0 C538.2,1205.0 536.5,1210.0 537.0,1214.0 C537.5,1218.0 542.0,1224.0 543.0,1226.0" stroke-width="1.8" fill="none" />
<path d="M535.0,1193.7 C540.2,1191.2 557.8,1182.7 566.0,1178.7 C574.2,1174.7 578.6,1172.8 584.4,1169.5 C590.1,1166.2 596.7,1161.5 600.5,1159.2 C604.3,1156.9 604.5,1156.1 607.4,1155.7 C610.3,1155.3 614.7,1155.8 617.7,1156.9 C620.8,1158.1 624.0,1160.1 625.7,1162.6 C627.4,1165.1 628.0,1168.7 628.0,1171.8 C628.0,1174.9 627.0,1178.7 625.7,1181.0 C624.4,1183.3 622.3,1184.4 620.0,1185.6 C617.7,1186.8 613.3,1187.5 612.0,1187.9" stroke-width="2.4" fill="none" />
<polyline points="563.7,1204.0 582.0,1197.0 602.8,1191.4 612.0,1187.9" stroke-width="2.4" />
<polyline points="546.4,1192.5 584.4,1176.4 617.7,1167.2" stroke-width="1.8" />
<ellipse cx="619" cy="1177" rx="7" ry="10.5" transform="rotate(20 619 1177)" stroke-width="2"/>
<rect x="88" y="949" width="18" height="29" fill="#fff" stroke="none"/>
<g filter="url(#thin)">
<text transform="translate(434.71,66.80) scale(0.429,0.566)">2</text>
<path d="M619.1,219.0 L619.1,256.3 L613.1,256.3 L613.1,229.1 L605.7,229.1 L605.7,224.6 L609.0,223.8 Z" class="f"/>
<text transform="translate(499.74,550.80) scale(0.420,0.551)">5</text>
<path d="M612.0,369.6 L612.0,408.6 L606.0,408.6 L606.0,380.1 L596.8,380.1 L596.8,375.4 L600.9,374.7 Z" class="f"/>
<text transform="translate(616.68,408.60) scale(0.410,0.557)">3</text>
<path d="M120.0,438.2 L120.0,475.8 L114.0,475.8 L114.0,448.4 L104.0,448.4 L104.0,443.8 L108.5,443.1 Z" class="f"/>
<text transform="translate(123.71,475.80) scale(0.429,0.537)">9</text>
<path d="M226.0,488.2 L226.0,527.8 L220.0,527.8 L220.0,498.9 L210.0,498.9 L210.0,494.1 L214.5,493.3 Z" class="f"/>
<text transform="translate(229.77,527.80) scale(0.410,0.566)">8</text>
<text transform="translate(97.78,770.80) scale(0.408,0.544)">2</text>
<text transform="translate(123.33,770.80) scale(0.417,0.544)">0</text>
<path d="M73.5,957.2 L73.5,996.8 L67.5,996.8 L67.5,967.9 L57.0,967.9 L57.0,963.1 L61.7,962.3 Z" class="f"/>
<text transform="translate(76.09,996.80) scale(0.479,0.566)">7</text>
<text transform="translate(917.76,493.40) scale(0.420,0.563)">3</text>
<path d="M835.0,705.2 L835.0,743.3 L829.0,743.3 L829.0,715.5 L818.8,715.5 L818.8,710.9 L823.4,710.2 Z" class="f"/>
<text transform="translate(838.80,743.30) scale(0.400,0.544)">5</text>
<path d="M879.0,669.2 L879.0,706.8 L873.0,706.8 L873.0,679.4 L865.0,679.4 L865.0,674.8 L868.6,674.1 Z" class="f"/>
<text transform="translate(882.35,706.80) scale(0.411,0.537)">6</text>
<path d="M780.0,888.2 L780.0,925.8 L774.0,925.8 L774.0,898.4 L765.0,898.4 L765.0,893.8 L769.0,893.1 Z" class="f"/>
<text transform="translate(783.17,925.80) scale(0.415,0.537)">4</text>
<path d="M954.8,756.7 L954.8,795.8 L948.8,795.8 L948.8,767.3 L941.2,767.3 L941.2,762.6 L944.6,761.8 Z" class="f"/>
<path d="M977.5,758.5 L977.5,795.8 L971.5,795.8 L971.5,768.5 L963.8,768.5 L963.8,764.1 L967.2,763.3 Z" class="f"/>
<text transform="translate(852.53,863.30) scale(0.408,0.559)">9</text>
<path d="M787.0,983.7 L787.0,1020.5 L781.0,1020.5 L781.0,993.6 L771.4,993.6 L771.4,989.2 L775.7,988.5 Z" class="f"/>
<text transform="translate(790.27,1020.50) scale(0.433,0.526)">0</text>
<path d="M857.0,1157.6 L857.0,1195.5 L851.0,1195.5 L851.0,1167.8 L840.7,1167.8 L840.7,1163.3 L845.3,1162.5 Z" class="f"/>
<text transform="translate(859.71,1195.50) scale(0.429,0.541)">2</text>
<text transform="translate(661.79,724.80) scale(0.404,0.540)">8</text>
<text transform="translate(488.87,1043.40) scale(0.415,0.539)">4</text>
<text transform="translate(676.21,1187.80) scale(0.447,0.537)">7</text>
<text transform="translate(592.86,1269.50) scale(0.435,0.541)">6</text>
<path d="M73.5,957.2 L73.5,996.8 L67.5,996.8 L67.5,967.9 L57.0,967.9 L57.0,963.1 L61.7,962.3 Z" class="f"/>
<text transform="translate(76.09,996.80) scale(0.479,0.566)">7</text>
</g>
</svg>
</body></html>
